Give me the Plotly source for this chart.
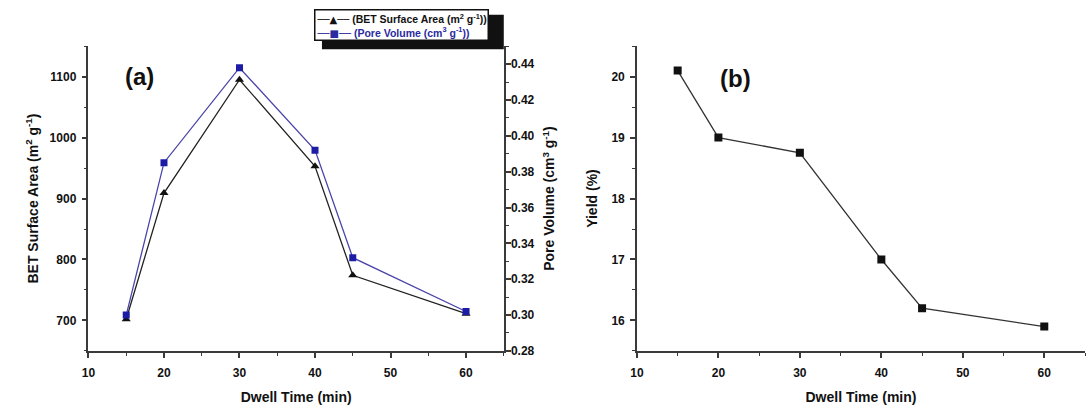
import plotly.graph_objects as go

dwell = [15, 20, 30, 40, 45, 60]
bet_area = [702, 909, 1095, 953, 774, 711]
pore_volume = [0.300, 0.385, 0.438, 0.392, 0.332, 0.302]
yield_pct = [20.1, 19.0, 18.75, 17.0, 16.2, 15.9]

x_ticks = [10, 20, 30, 40, 50, 60]
bet_ticks = [700, 800, 900, 1000, 1100]
pore_ticks = [0.28, 0.30, 0.32, 0.34, 0.36, 0.38, 0.40, 0.42, 0.44]
yield_ticks = [16, 17, 18, 19, 20]

W, H = 1088, 410
FONT = "Liberation Sans"
AX = "#3a3a3a"
BLUE_LINE = "#4a45a8"
BLUE_MK = "#1c1ca6"
BLUE_TXT = "#2a2aa0"

def px_x(p):
    return p / W

def px_y(p):
    return 1 - p / H

def bold(vals, fmt="{}"):
    return ["<b>" + fmt.format(v) + "</b>" for v in vals]

fig = go.Figure()

fig.add_trace(go.Scatter(
    x=dwell, y=bet_area, mode="lines+markers",
    name="(BET Surface Area (m<sup>2</sup> g<sup>-1</sup>))",
    line=dict(color="#222222", width=1.3),
    marker=dict(symbol="triangle-up", size=8, color="#111111"),
    showlegend=False,
    xaxis="x", yaxis="y"))

fig.add_trace(go.Scatter(
    x=dwell, y=pore_volume, mode="lines+markers",
    name="(Pore Volume (cm<sup>3</sup> g<sup>-1</sup>))",
    line=dict(color=BLUE_LINE, width=1.3),
    marker=dict(symbol="square", size=7, color=BLUE_MK),
    showlegend=False,
    xaxis="x", yaxis="y2"))

fig.add_trace(go.Scatter(
    x=dwell, y=yield_pct, mode="lines+markers",
    name="Yield (%)",
    line=dict(color="#333333", width=1.3),
    marker=dict(symbol="square", size=8, color="#111111"),
    showlegend=False,
    xaxis="x2", yaxis="y3"))

tickfont = dict(family=FONT, size=12, color="#111111")
titlefont = dict(family=FONT, size=14, color="#111111")

def axis_common(**kw):
    d = dict(
        showline=True, linecolor=AX, linewidth=1.5,
        ticks="outside", ticklen=5, tickwidth=1.5, tickcolor=AX,
        showgrid=False, zeroline=False,
        tickfont=tickfont, tickmode="array",
        minor=dict(ticks="outside", ticklen=3, tickwidth=1.2, tickcolor=AX, showgrid=False),
    )
    d.update(kw)
    return d

ydom = [px_y(357), px_y(47)]

fig.update_layout(
    width=W, height=H,
    margin=dict(l=0, r=0, t=0, b=0),
    paper_bgcolor="white", plot_bgcolor="white",
    font=dict(family=FONT, color="#111111"),
    showlegend=False,
    xaxis=axis_common(
        domain=[px_x(82), px_x(500)], range=[10, 65],
        tickvals=x_ticks, ticktext=bold(x_ticks),
        minor_tickvals=[15, 25, 35, 45, 55, 65],
        anchor="y", ticklabelstandoff=5,
        title=dict(text="<b>Dwell Time (min)</b>", font=titlefont, standoff=13)),
    yaxis=axis_common(
        domain=ydom, range=[650, 1150],
        tickvals=bet_ticks, ticktext=bold(bet_ticks),
        minor_tickvals=[650, 750, 850, 950, 1050, 1150],
        anchor="x", ticklabelstandoff=3,
        title=dict(text="<b>BET Surface Area (m<sup>2</sup> g<sup>-1</sup>)</b>", font=titlefont, standoff=8)),
    yaxis2=axis_common(
        domain=ydom, range=[0.28, 0.45], overlaying="y", side="right", anchor="x",
        tickvals=pore_ticks, ticktext=bold(pore_ticks, "{:.2f}"),
        minor_tickvals=[0.29, 0.31, 0.33, 0.35, 0.37, 0.39, 0.41, 0.43, 0.45],
        ticklabelstandoff=-2,
        title=dict(text="<b>Pore Volume (cm<sup>3</sup> g<sup>-1</sup>)</b>", font=titlefont, standoff=11)),
    xaxis2=axis_common(
        domain=[px_x(634), px_x(1085)], range=[10, 65],
        tickvals=x_ticks, ticktext=bold(x_ticks),
        minor_tickvals=[15, 25, 35, 45, 55, 65],
        anchor="y3", ticklabelstandoff=5,
        title=dict(text="<b>Dwell Time (min)</b>", font=titlefont, standoff=13)),
    yaxis3=axis_common(
        domain=ydom, range=[15.5, 20.5], anchor="x2",
        tickvals=yield_ticks, ticktext=bold(yield_ticks),
        minor_tickvals=[15.5, 16.5, 17.5, 18.5, 19.5, 20.5],
        ticklabelstandoff=3,
        title=dict(text="<b>Yield (%)</b>", font=titlefont, standoff=11)),
)

# legend drop shadow
fig.add_shape(type="rect", xref="paper", yref="paper",
              x0=px_x(317), x1=px_x(500), y0=px_y(50), y1=px_y(15),
              fillcolor="#111111", line=dict(width=0), layer="above")

SYM = "font-family:DejaVu Sans;font-size:10px"
legend_text = (
    "<span style='" + SYM + "'>──▲──</span> <b>" + fig.data[0].name + "</b><br>"
    "<span style='color:" + BLUE_TXT + "'><span style='" + SYM + "'>──■──</span> <b>"
    + fig.data[1].name + "</b></span>"
)
fig.add_annotation(text=legend_text, x=px_x(309), y=px_y(9), xref="paper", yref="paper",
                   xanchor="left", yanchor="top", align="left", showarrow=False,
                   bgcolor="white", bordercolor="#111111", borderwidth=1.5, borderpad=1,
                   font=dict(family=FONT, size=10.5, color="#111111"))

fig.add_annotation(text="<b>(a)</b>", x=px_x(133), y=px_y(78), xref="paper", yref="paper",
                   xanchor="center", yanchor="middle",
                   showarrow=False, font=dict(family=FONT, size=24, color="#111111"))
fig.add_annotation(text="<b>(b)</b>", x=px_x(733), y=px_y(80), xref="paper", yref="paper",
                   xanchor="center", yanchor="middle",
                   showarrow=False, font=dict(family=FONT, size=24, color="#111111"))

fig.write_html("out.html", config={"displayModeBar": False},
               post_script="document.body.style.margin='0';document.body.style.overflow='hidden';")
